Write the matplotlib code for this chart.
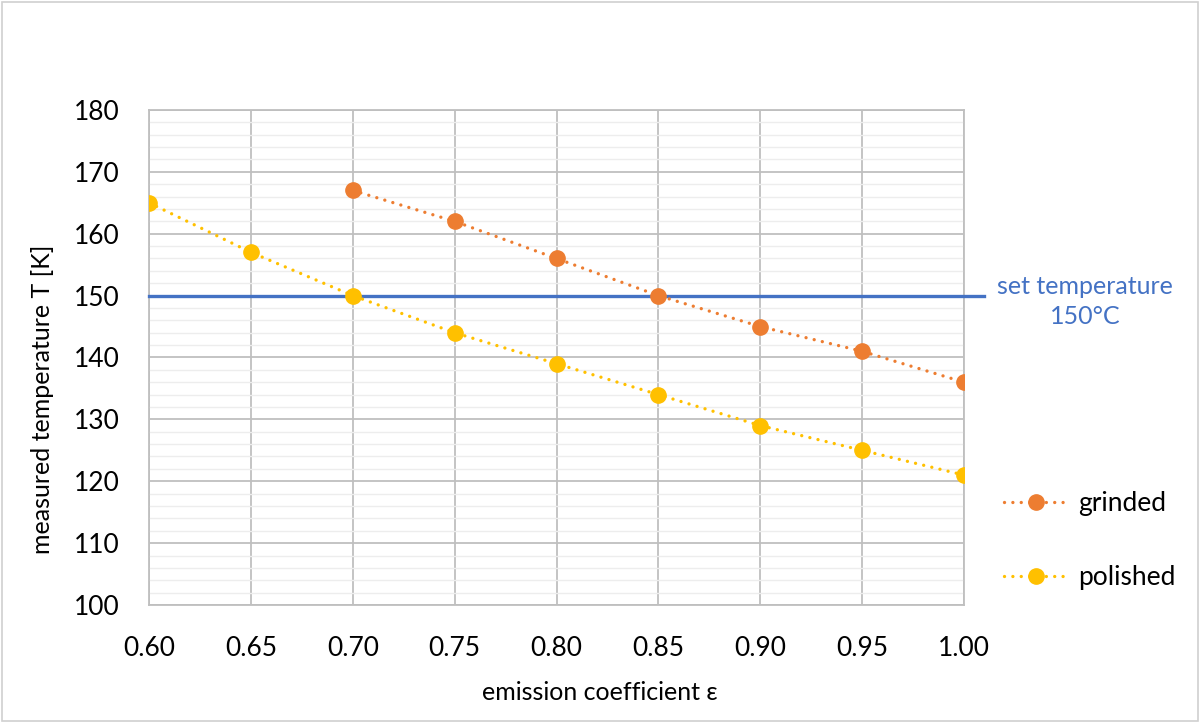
import numpy as np
import matplotlib.pyplot as plt
from matplotlib.patches import Rectangle
from matplotlib.ticker import MultipleLocator

plt.rcParams['font.family'] = ['Lato', 'DejaVu Sans']

# data
eps_grinded = [0.70, 0.75, 0.80, 0.85, 0.90, 0.95, 1.00]
t_grinded = [167, 162, 156, 150, 145, 141, 136]
eps_polished = [0.60, 0.65, 0.70, 0.75, 0.80, 0.85, 0.90, 0.95, 1.00]
t_polished = [165, 157, 150, 144, 139, 134, 129, 125, 121]
set_x = [0.60, 1.01]
set_t = [150, 150]
x_ticks = [0.60, 0.65, 0.70, 0.75, 0.80, 0.85, 0.90, 0.95, 1.00]
y_ticks = [100, 110, 120, 130, 140, 150, 160, 170, 180]

fig = plt.figure(figsize=(12, 7.23), dpi=100)
ax = fig.add_axes([0.1242, 0.1632, 0.6791, 0.6847])

dots = (0, (0.01, 2.5))
ax.plot(eps_grinded, t_grinded, color='#ED7D31', lw=2.4, ls=dots,
        dash_capstyle='round', marker='o', ms=11, label='grinded', zorder=4)
ax.plot(eps_polished, t_polished, color='#FFC000', lw=2.4, ls=dots,
        dash_capstyle='round', marker='o', ms=11, label='polished', zorder=4)
ax.plot(set_x, set_t, '-', color='#4472C4', lw=2.4, clip_on=False, zorder=3)

ax.set_xlim(0.60, 1.00)
ax.set_ylim(100, 180)
ax.set_xticks(x_ticks)
ax.set_xticklabels([f'{v:.2f}' for v in x_ticks])
ax.set_yticks(y_ticks)
ax.yaxis.set_minor_locator(MultipleLocator(2))
ax.grid(which='major', color='#BFBFBF', lw=1.3)
ax.grid(which='minor', axis='y', color='#EDEDED', lw=1.0)
ax.set_axisbelow(True)
for s in ax.spines.values():
    s.set_color('#BFBFBF')
    s.set_linewidth(1.3)
ax.tick_params(which='both', length=0, labelsize=19)
ax.tick_params(axis='x', pad=22)
ax.tick_params(axis='y', pad=21)

ax.set_xlabel('emission coefficient ε', fontsize=18, va='center')
ax.xaxis.set_label_coords(0.553, -0.176)
ax.set_ylabel('measured temperature T [K]', fontsize=18, va='center')
ax.yaxis.set_label_coords(-0.131, 0.416)

ax.text(1.1485, 149.1, 'set temperature\n150°C', color='#4472C4', fontsize=18,
        ha='center', va='center', multialignment='center', linespacing=1.35,
        transform=ax.get_yaxis_transform())

ax.legend(loc='center left', bbox_to_anchor=(1.02, 0.13), frameon=False,
          fontsize=19, labelspacing=1.85, handlelength=2.45, handletextpad=0.35)

fig.patches.append(Rectangle((0.002, 0.003), 0.996, 0.994, transform=fig.transFigure,
                             fill=False, edgecolor='#D0D0D0', lw=1.2))

fig.savefig('out.png', dpi=100)
